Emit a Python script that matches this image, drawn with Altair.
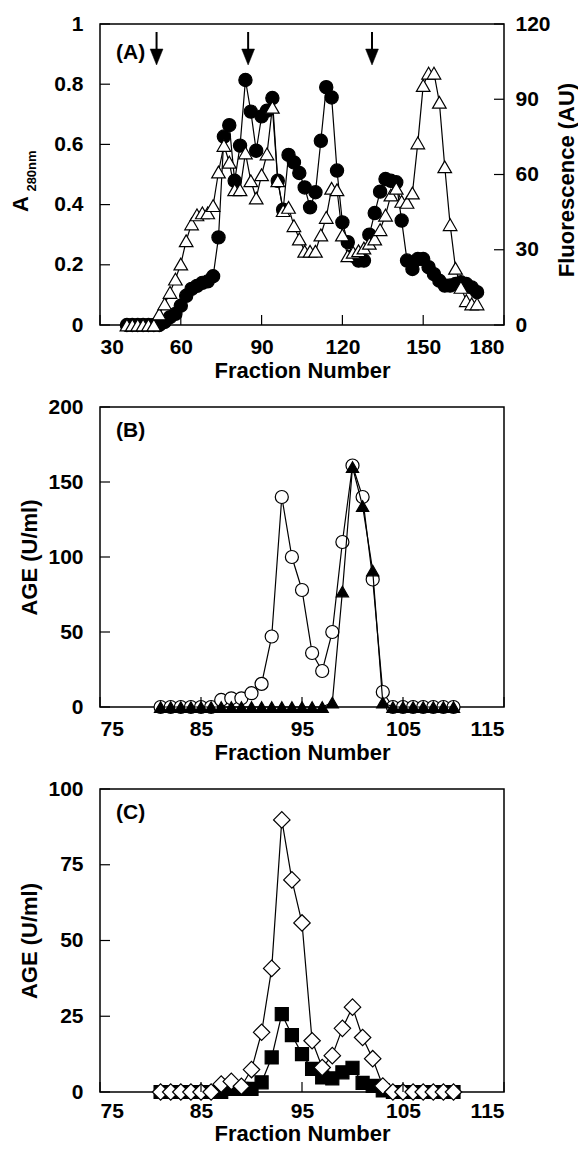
import altair as alt
import pandas as pd

FONT = "Liberation Sans"

# ---------------- Panel A ----------------
a_frac = [40, 42, 44, 46, 48, 50, 52, 54, 56, 58, 60, 62, 64, 66, 68, 70, 72, 74,
          76, 78, 80, 82, 84, 86, 88, 90, 92, 94, 96, 98, 100, 102, 104, 106, 108,
          110, 112, 114, 116, 118, 120, 122, 124, 126, 128, 130, 132, 134, 136,
          138, 140, 142, 144, 146, 148, 150, 152, 154, 156, 158, 160, 162, 164,
          166, 168, 170]
a_abs = [0, 0, 0, 0, 0, 0, 0, 0.01, 0.026, 0.037, 0.064, 0.097, 0.12, 0.13, 0.14,
         0.145, 0.162, 0.291, 0.626, 0.664, 0.479, 0.596, 0.814, 0.709, 0.579,
         0.693, 0.712, 0.754, 0.479, 0.383, 0.565, 0.540, 0.505, 0.457, 0.391,
         0.441, 0.612, 0.790, 0.756, 0.513, 0.341, 0.275, 0.23, 0.214, 0.214,
         0.30, 0.372, 0.443, 0.485, 0.479, 0.474, 0.347, 0.214, 0.186, 0.219,
         0.219, 0.192, 0.169, 0.147, 0.131, 0.131, 0.136, 0.142, 0.136, 0.125,
         0.109]

f_frac = [40, 42, 44, 46, 48, 50, 52, 54, 56, 58, 60, 62, 64, 66, 68, 70, 72, 74,
          76, 78, 80, 82, 84, 86, 88, 90, 92, 94, 96, 98, 100, 102, 104, 106, 108,
          110, 112, 114, 116, 118, 120, 122, 124, 126, 128, 130, 132, 134, 136,
          138, 140, 142, 144, 146, 148, 150, 152, 154, 156, 158, 160, 162, 164,
          166, 168, 170]
f_fluor = [0, 0, 0, 0, 0, 0, 4.4, 8.4, 13, 18.3, 24.3, 33.6, 40.3, 43.9, 44.7,
           44.7, 47.6, 61, 71.6, 64.9, 53.9, 53.9, 68.6, 57.5, 50.6, 59.9, 68.2,
           86.8, 57.5, 45.6, 46.9, 39.6, 34.3, 29.4, 29.4, 29.4, 35.9, 42.9, 54.5,
           53.9, 35.9, 27.6, 29.0, 29.6, 30.7, 32.6, 34.3, 38.0, 43.8, 51.8, 54.5,
           49.3, 48.9, 52.6, 72.6, 95.5, 100.4, 100.4, 88.8, 63.1, 40, 22.6, 15,
           9.7, 8.4, 8.4]

arrow_frac = [51, 85, 131]

a_xticks = [30, 60, 90, 120, 150, 180]
a_yticks = [0, 0.2, 0.4, 0.6, 0.8, 1]
f_yticks = [0, 30, 60, 90, 120]

# ---------------- Panel B ----------------
b_frac = [81, 82, 83, 84, 85, 86, 87, 88, 89, 90, 91, 92, 93, 94, 95, 96, 97, 98,
          99, 100, 101, 102, 103, 104, 105, 106, 107, 108, 109, 110]
b_open = [0, 0, 0, 0, 0, 0, 4.7, 5.8, 5.8, 9.2, 15.4, 47, 140, 100, 78, 36, 24,
          50, 110, 161, 140, 85, 10, 0, 0, 0, 0, 0, 0, 0]
b_tri = [0, 0, 0, 0, 0, 0, 0, 0, 0, 0, 0, 0, 0, 0, 0, 0, 0, 3, 77, 160, 134, 91,
         3, 0, 0, 0, 0, 0, 0, 0]
b_yticks = [0, 50, 100, 150, 200]

# ---------------- Panel C ----------------
c_frac = [81, 82, 83, 84, 85, 86, 87, 88, 89, 90, 91, 92, 93, 94, 95, 96, 97, 98,
          99, 100, 101, 102, 103, 104, 105, 106, 107, 108, 109, 110]
c_diamond = [0, 0, 0, 0, 0, 0, 2.6, 3.5, 1.9, 7.4, 19.7, 40.8, 89.8, 70, 55.8,
             16.9, 8.1, 12, 21, 28, 18, 11, 2, 0, 0, 0, 0, 0, 0, 0]
c_square = [0, 0, 0, 0, 0, 0, 0, 1, 1, 1, 3.2, 11.4, 25.7, 18.8, 12.5, 7.6, 4.8,
            4.5, 6.5, 8, 3, 2, 0.5, 0, 0, 0, 0, 0, 0, 0]
c_yticks = [0, 25, 50, 75, 100]

bc_xticks = [75, 85, 95, 105, 115]

W = 404
TICK = 10
BLACK = "black"


def xenc(scale, values, lp=11, tp=3):
    return alt.X("frac:Q", scale=scale,
                 axis=alt.Axis(values=values, title="Fraction Number",
                               labelPadding=lp, titlePadding=tp))


def yenc(field, scale, values, fmt, title=None, orient="left"):
    kw = dict(values=values, format=fmt, orient=orient,
              labelPadding=17 if orient == "left" else 11)
    if title is not None:
        kw["title"] = title
        kw["titlePadding"] = 6
    else:
        kw["title"] = None
    return alt.Y(field + ":Q", scale=scale, axis=alt.Axis(**kw))


def series(df, xs, xt, yfield, ys, yt, fmt, shape, fill, size, title=None,
           orient="left", lp=11, tp=3):
    base = alt.Chart(df).encode(x=xenc(xs, xt, lp, tp),
                                y=yenc(yfield, ys, yt, fmt, title, orient))
    line = base.mark_line(color=BLACK, strokeWidth=1.2)
    pts = base.mark_point(shape=shape, filled=True, fill=fill, stroke=BLACK,
                          strokeWidth=1.2, size=size, opacity=1)
    return [line, pts]


def xticks_layer(values, xs, H, lp=11, tp=3):
    df = pd.DataFrame({"frac": values})
    return alt.Chart(df).mark_rule(color=BLACK, strokeWidth=1.2).encode(
        x=xenc(xs, values, lp, tp), y=alt.value(H), y2=alt.value(H - TICK))


def yticks_layer(field, values, ys, fmt, side, title=None, orient="left"):
    df = pd.DataFrame({field: values})
    if side == "left":
        xa, xb = 0, TICK
    else:
        xa, xb = W, W - TICK
    return alt.Chart(df).mark_rule(color=BLACK, strokeWidth=1.2).encode(
        y=yenc(field, ys, values, fmt, title, orient), x=alt.value(xa),
        x2=alt.value(xb))


def label(txt, x, y, size=21, angle=0, align="left"):
    df = pd.DataFrame({"t": [txt]})
    kw = dict(align=align, baseline="alphabetic", fontSize=size, fontWeight="bold",
              font=FONT, color=BLACK)
    if angle:
        kw["angle"] = angle
    return alt.Chart(df).mark_text(**kw).encode(x=alt.value(x), y=alt.value(y),
                                                text="t:N")


# ----- Panel A -----
HA = 301
xA = alt.Scale(domain=[30, 180], nice=False)
yA = alt.Scale(domain=[0, 1], nice=False)
yF = alt.Scale(domain=[0, 120], nice=False)

dfA = pd.DataFrame({"frac": a_frac, "abs": a_abs})
dfF = pd.DataFrame({"frac": f_frac, "fl": f_fluor})
dfArr = pd.DataFrame({"frac": arrow_frac})

arrow_shaft = alt.Chart(dfArr).mark_rule(color=BLACK, strokeWidth=2).encode(
    x=xenc(xA, a_xticks), y=alt.value(8), y2=alt.value(26))
arrow_head = alt.Chart(dfArr).mark_point(
    shape="M-0.8,-1L0.8,-1L0,1Z", filled=True, fill=BLACK, stroke=BLACK,
    strokeWidth=0.5, size=256, opacity=1).encode(x=xenc(xA, a_xticks),
                                                 y=alt.value(33))

layerA = alt.layer(
    *series(dfA, xA, a_xticks, "abs", yA, a_yticks, "~g", "circle", BLACK, 175),
    xticks_layer(a_xticks, xA, HA),
    yticks_layer("abs", a_yticks, yA, "~g", "left"),
    arrow_shaft, arrow_head,
    label("(A)", 16, 35),
    label("A", -72, 180, size=22, angle=270, align="center"),
    label("280nm", -64, 147, size=13, angle=270, align="center"),
    label("Fluorescence (AU)", W + 70, 156, size=22, angle=270, align="center"),
)
layerF = alt.layer(
    *series(dfF, xA, a_xticks, "fl", yF, f_yticks, "d", "triangle-up", "white", 185,
            orient="right"),
    yticks_layer("fl", f_yticks, yF, "d", "right", orient="right"),
)
panelA = alt.layer(layerA, layerF).resolve_scale(y="independent").properties(
    width=W, height=HA)

# ----- Panel B -----
HB = 300
xB = alt.Scale(domain=[75, 115], nice=False)
yB = alt.Scale(domain=[0, 200], nice=False)
dfB = pd.DataFrame({"frac": b_frac, "open": b_open, "tri": b_tri})
panelB = alt.layer(
    *series(dfB, xB, bc_xticks, "open", yB, b_yticks, "d", "circle", "white", 170,
            title="AGE (U/ml)"),
    *series(dfB, xB, bc_xticks, "tri", yB, b_yticks, "d", "triangle-up", BLACK, 150,
            title="AGE (U/ml)"),
    xticks_layer(bc_xticks, xB, HB),
    yticks_layer("open", b_yticks, yB, "d", "left", title="AGE (U/ml)"),
    label("(B)", 16, 30),
).properties(width=W, height=HB)

# ----- Panel C -----
HC = 303
CLP, CTP = 8, 2
yC = alt.Scale(domain=[0, 100], nice=False)
dfC = pd.DataFrame({"frac": c_frac, "dia": c_diamond, "sq": c_square})
panelC = alt.layer(
    *series(dfC, xB, bc_xticks, "sq", yC, c_yticks, "d", "square", BLACK, 170,
            title="AGE (U/ml)", lp=CLP, tp=CTP),
    *series(dfC, xB, bc_xticks, "dia", yC, c_yticks, "d", "diamond", "white", 270,
            title="AGE (U/ml)", lp=CLP, tp=CTP),
    xticks_layer(bc_xticks, xB, HC, lp=CLP, tp=CTP),
    yticks_layer("sq", c_yticks, yC, "d", "left", title="AGE (U/ml)"),
    label("(C)", 16, 30),
).properties(width=W, height=HC)

chart = alt.vconcat(panelA, panelB, panelC, spacing=82, bounds="flush").properties(
    padding={"top": 4, "left": 1, "right": -1, "bottom": 0}
).configure_view(stroke=BLACK, strokeWidth=1.5).configure_axis(
    domain=False, ticks=False, tickSize=0, grid=False,
    labelFont=FONT, labelFontSize=21, labelFontWeight="bold", labelColor=BLACK,
    titleFont=FONT, titleFontSize=22, titleFontWeight="bold", titleColor=BLACK,
)

chart.save("out.html", embed_options={"renderer": "svg", "actions": False})
